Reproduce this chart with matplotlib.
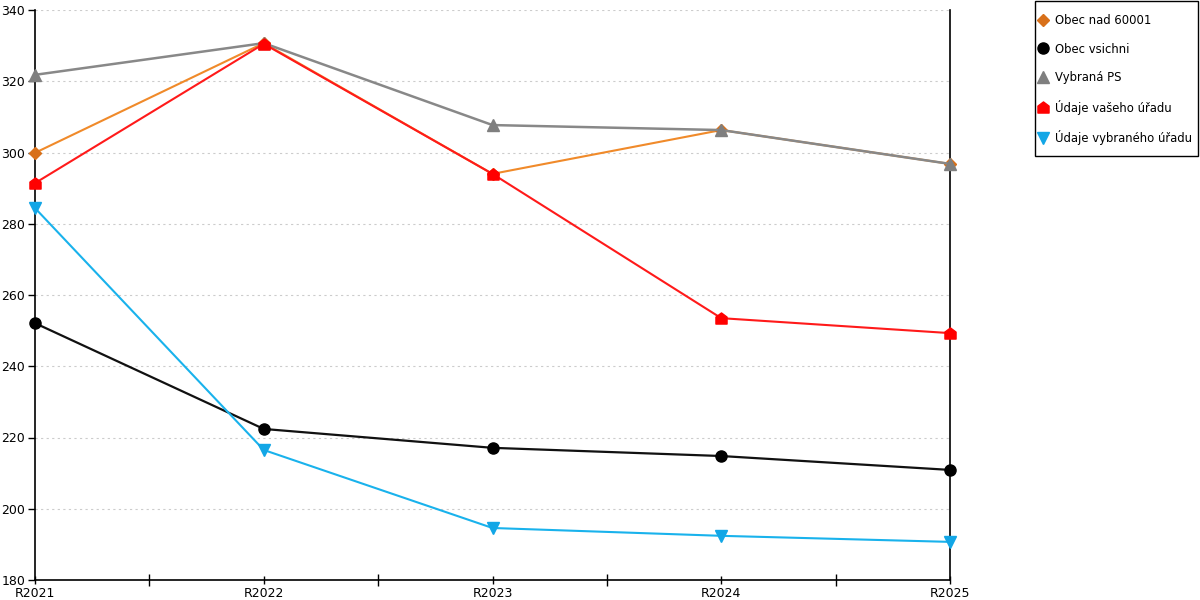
import matplotlib
matplotlib.use("Agg")
import matplotlib.pyplot as plt
from matplotlib.path import Path
from matplotlib.patches import Rectangle
import numpy as np

categories = ["R2021", "R2022", "R2023", "R2024", "R2025"]
obec_nad = [299.9, 330.7, 294.0, 306.3, 296.8]
obec_vsichni = [252.1, 222.4, 217.1, 214.8, 210.9]
vybrana_ps = [321.8, 330.7, 307.7, 306.3, 296.8]
udaje_vaseho = [291.4, 330.5, 294.0, 253.5, 249.3]
udaje_vybraneho = [284.4, 216.5, 194.6, 192.4, 190.7]

y_ticks = [180, 200, 220, 240, 260, 280, 300, 320, 340]

plt.rcParams['font.family'] = ['DejaVu Sans']

W, H = 1200, 600
fig = plt.figure(figsize=(12, 6), dpi=100)
ax = fig.add_axes([35/W, 20/H, 915/W, 570/H])

x = np.arange(len(categories))

house = Path([(-1, -1), (1, -1), (1, 0.25), (0, 1), (-1, 0.25), (-1, -1)],
             [Path.MOVETO, Path.LINETO, Path.LINETO, Path.LINETO, Path.LINETO, Path.CLOSEPOLY])

common = dict(clip_on=False, zorder=3)
ax.plot(x, obec_nad, color="#F08A2A", lw=1.5, marker="D", markersize=6,
        markerfacecolor="#D8701A", markeredgecolor="#D8701A", label="Obec nad 60001", **common)
ax.plot(x, obec_vsichni, color="#111111", lw=1.6, marker="o", markersize=8,
        markerfacecolor="black", markeredgecolor="black", label="Obec vsichni", **common)
ax.plot(x, vybrana_ps, color="#888888", lw=1.8, marker="^", markersize=9,
        markerfacecolor="#7f7f7f", markeredgecolor="#7f7f7f", label="Vybraná PS", **common)
ax.plot(x, udaje_vaseho, color="#FF1A1A", lw=1.5, marker=house, markersize=8,
        markerfacecolor="#FF0000", markeredgecolor="#FF0000", label="Údaje vašeho úřadu", **common)
ax.plot(x, udaje_vybraneho, color="#19B2EC", lw=1.5, marker="v", markersize=9,
        markerfacecolor="#12A6E6", markeredgecolor="#12A6E6", label="Údaje vybraného úřadu", **common)

ax.set_xlim(0, len(categories) - 1)
ax.set_ylim(180, 340)
ax.set_yticks(y_ticks)
ax.set_yticklabels([str(v) for v in y_ticks])
ax.set_xticks(x)
ax.set_xticklabels(categories)
ax.set_xticks(x[:-1] + 0.5, minor=True)

ax.grid(axis="y", color="#cccccc", linestyle=(0, (2, 3)), linewidth=0.8, zorder=0)
ax.set_axisbelow(True)

for s in ["left", "bottom", "right"]:
    ax.spines[s].set_color("black")
    ax.spines[s].set_linewidth(1.2)
ax.spines["top"].set_visible(False)

ax.tick_params(axis="y", direction="out", length=5, width=1, labelsize=9, pad=2, colors="black")
ax.tick_params(axis="x", which="major", direction="inout", length=6, width=1, labelsize=9, pad=2)
ax.tick_params(axis="x", which="minor", direction="inout", length=8, width=1)

# legend frame
fig.patches.append(Rectangle((1035/W, 1 - 156/H), 163/W, 155/H, transform=fig.transFigure,
                             fill=False, edgecolor="black", linewidth=1.0))

leg = fig.legend(loc="upper left", bbox_to_anchor=(1039.5/W, 1 - 14/H),
                 frameon=False, fontsize=8.4,
                 handlelength=0.6, handletextpad=0.7, labelspacing=1.33,
                 borderpad=0, borderaxespad=0)
for h in leg.legend_handles:
    h.set_linestyle("None")

fig.savefig("out.png", dpi=100)
